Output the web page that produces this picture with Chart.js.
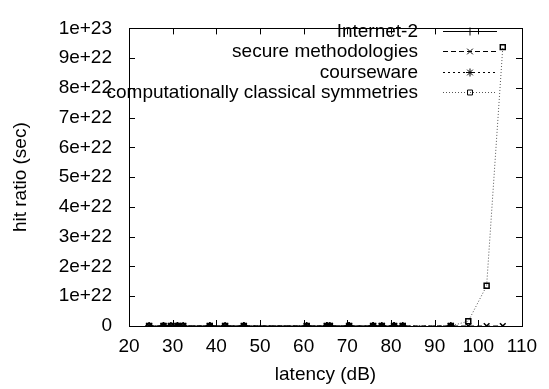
<!DOCTYPE html>
<html>
<head>
<meta charset="utf-8">
<script src="https://cdn.jsdelivr.net/npm/chart.js@4/dist/chart.umd.min.js"></script>
<style>
    body { margin: 0; background: #fff; }
    #wrap { width: 549px; height: 389px; }
</style>
</head>
<body>
<div id="wrap"><canvas id="chart" width="549" height="389"></canvas></div>
<script>
// values
const seriesNames = ['Internet-2', 'secure methodologies', 'courseware', 'computationally classical symmetries'];

const internetX = [24.6, 27.9, 29.6, 31.1, 32.4, 38.5, 42, 46.3, 60.7, 65.3, 70.4, 75.9, 80.7];
const internetY = [0, 0, 0, 0, 0, 0, 0, 0, 0, 0, 0, 0, 0];

const secureX = [24.6, 29.6, 32.4, 42, 60.7, 66, 77.9, 82.7, 93.7, 97.7, 101.9, 105.6];
const secureY = [0, 0, 0, 0, 0, 0, 0, 0, 0, 0, 0, 0];

const coursewareX = [27.9, 31.1, 38.5, 46.3, 65.3, 66, 70.4, 75.9, 77.9, 80.7, 82.7, 93.7];
const coursewareY = [0, 0, 0, 0, 0, 0, 0, 0, 0, 0, 0, 0];

const symmetriesX = [24.6, 27.9, 29.6, 31.1, 32.4, 38.5, 42, 46.3, 60.7, 65.3, 66, 70.4, 75.9, 77.9, 80.7, 82.7, 93.7, 97.7, 101.9, 105.6];
const symmetriesY = [0, 0, 0, 0, 0, 0, 0, 0, 0, 0, 0, 0, 0, 0, 0, 0, 2e19, 1.6e21, 1.35e22, 9.37e22];

const xTicks = [20, 30, 40, 50, 60, 70, 80, 90, 100, 110];
const yTicks = [0, 1e22, 2e22, 3e22, 4e22, 5e22, 6e22, 7e22, 8e22, 9e22, 1e23];

const FONT = 'Liberation Sans, Arial, sans-serif';
const FSIZE = 19;
Chart.defaults.color = '#000';
Chart.defaults.font.family = FONT;
Chart.defaults.font.size = FSIZE;

function pts(xs, ys) {
    return xs.map((x, i) => ({ x: x, y: ys[i] }));
}

function gnuFmt(v) {
    if (Math.abs(v) < 1) return '0';
    return v.toExponential(0);
}

// gnuplot style box, inward ticks on all four sides, and the key
const framePlugin = {
    id: 'frame',
    afterDraw(chart) {
        const ctx = chart.ctx;
        const a = chart.chartArea;
        const xs = chart.scales.x, ys = chart.scales.y;
        const len = 6;
        ctx.save();
        ctx.strokeStyle = '#000';
        ctx.lineWidth = 1;
        ctx.beginPath();
        xTicks.forEach(v => {
            const px = Math.round(xs.getPixelForValue(v)) + 0.5;
            ctx.moveTo(px, a.bottom); ctx.lineTo(px, a.bottom - len);
            ctx.moveTo(px, a.top); ctx.lineTo(px, a.top + len);
        });
        yTicks.forEach(v => {
            const py = Math.round(ys.getPixelForValue(v)) + 0.5;
            ctx.moveTo(a.left, py); ctx.lineTo(a.left + len, py);
            ctx.moveTo(a.right, py); ctx.lineTo(a.right - len, py);
        });
        ctx.stroke();
        ctx.strokeRect(Math.round(a.left) + 0.5, Math.round(a.top) + 0.5,
            Math.round(a.right - a.left), Math.round(a.bottom - a.top));

        ctx.font = FSIZE + 'px ' + FONT;
        ctx.textAlign = 'right';
        ctx.textBaseline = 'middle';
        const textRight = 418, x0 = 443, x1 = 497;
        chart.data.datasets.forEach((ds, i) => {
            const y = Math.round(30.5 + i * 20.6) + 0.5;
            ctx.fillStyle = '#000';
            ctx.fillText(ds.label, textRight, y);
            ctx.beginPath();
            ctx.setLineDash(ds.borderDash || []);
            ctx.strokeStyle = ds.borderColor;
            ctx.moveTo(x0, y);
            ctx.lineTo(x1, y);
            ctx.stroke();
            ctx.setLineDash([]);
            ctx.strokeStyle = '#000';
            ctx.fillStyle = 'rgba(0,0,0,0)';
            Chart.helpers.drawPoint(ctx, {
                pointStyle: ds.pointStyle, radius: ds.pointRadius, borderWidth: 1
            }, (x0 + x1) / 2, y);
        });
        ctx.restore();
    }
};

function series(label, data, dash, style, color, r) {
    return {
        label: label,
        data: data,
        borderColor: color,
        backgroundColor: 'transparent',
        pointBorderColor: '#000',
        pointBackgroundColor: 'transparent',
        borderWidth: 1,
        borderDash: dash,
        pointStyle: style,
        pointRadius: r,
        pointBorderWidth: 1.5,
        tension: 0,
        fill: false
    };
}

new Chart(document.getElementById('chart').getContext('2d'), {
    type: 'line',
    data: {
        datasets: [
            series(seriesNames[0], pts(internetX, internetY), [], 'cross', '#000', 4),
            series(seriesNames[1], pts(secureX, secureY), [5, 3], 'crossRot', '#000', 4),
            series(seriesNames[2], pts(coursewareX, coursewareY), [2, 3], 'star', '#000', 4),
            series(seriesNames[3], pts(symmetriesX, symmetriesY), [1, 2], 'rect', '#555', 3.5)
        ]
    },
    options: {
        responsive: false,
        animation: false,
        layout: { padding: { top: 15, right: 27, left: 0, bottom: 0 } },
        plugins: {
            legend: { display: false },
            tooltip: { enabled: false }
        },
        scales: {
            x: {
                type: 'linear',
                min: 20,
                max: 110,
                afterFit: s => { s.height = 63; },
                afterBuildTicks: s => { s.ticks = xTicks.map(v => ({ value: v })); },
                grid: { display: false, drawTicks: false },
                border: { display: false },
                ticks: { padding: 9, maxRotation: 0 },
                title: { display: true, text: 'latency (dB)', padding: { top: 0, bottom: 3 } }
            },
            y: {
                type: 'linear',
                min: 0,
                max: 1e23,
                afterFit: s => { s.width = 129; },
                afterBuildTicks: s => { s.ticks = yTicks.map(v => ({ value: v })); },
                grid: { display: false, drawTicks: false },
                border: { display: false },
                ticks: { padding: 17, callback: v => gnuFmt(v) },
                title: { display: true, text: 'hit ratio (sec)', padding: { top: 9, bottom: 0 } }
            }
        }
    },
    plugins: [framePlugin]
});
</script>
</body>
</html>
